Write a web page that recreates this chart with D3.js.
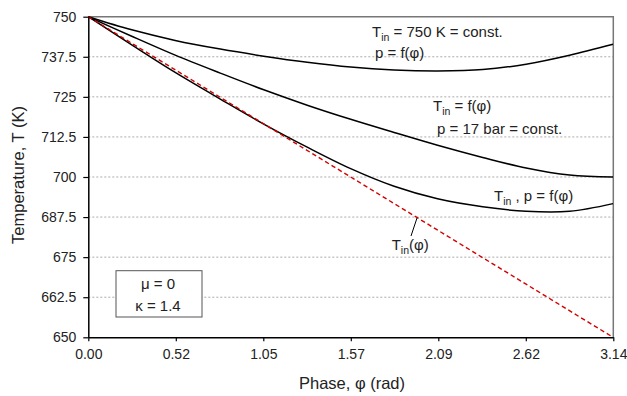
<!DOCTYPE html>
<html>
<head>
<meta charset="utf-8">
<script src="https://cdn.jsdelivr.net/npm/d3@7"></script>
<style>
  body { margin: 0; background: #fff; }
  svg { font-family: "Liberation Sans", Arial, sans-serif; }
</style>
</head>
<body>
<script>
// phase values (rad) the curves were read at
const phi = [0, 0.26, 0.52, 0.79, 1.05, 1.31, 1.57, 1.83, 2.09, 2.36, 2.62, 2.88, 3.14];

// Tin = 750 K = const, p = f(phi)
const tConstTin = [750, 745.9, 742.6, 739.9, 737.7, 735.8, 734.3, 733.4, 733.1, 733.5, 735.2, 738.0, 741.4];
// Tin = f(phi), p = 17 bar = const
const tConstP = [750, 743.9, 738.0, 732.4, 727.2, 722.4, 718.0, 713.9, 709.9, 706.1, 702.8, 700.6, 700.0];
// Tin, p = f(phi)
const tBoth = [750, 741.2, 732.6, 724.3, 716.5, 709.3, 702.6, 697.1, 693.2, 690.7, 689.3, 689.3, 691.7];
// Tin(phi), red dashed
const tinPhi = [0, 3.14];
const tinVals = [750, 650];

const yTicks = [650, 662.5, 675, 687.5, 700, 712.5, 725, 737.5, 750];
const xTicks = [0, Math.PI / 6, Math.PI / 3, Math.PI / 2, 2 * Math.PI / 3, 5 * Math.PI / 6, Math.PI];
const xTickLabels = ["0.00", "0.52", "1.05", "1.57", "2.09", "2.62", "3.14"];

const w = 627;
const h = 396;
const mLeft = 88.3, mRight = 613.3, mTop = 16.7, mBottom = 337.3;

const x = d3.scaleLinear().domain([0, Math.PI]).range([mLeft, mRight]);
const y = d3.scaleLinear().domain([650, 750]).range([mBottom, mTop]);

const svg = d3.select("body").append("svg")
  .attr("width", w)
  .attr("height", h);

// grid lines
svg.append("g")
  .selectAll("line")
  .data(yTicks.filter(d => d > 650 && d < 750))
  .enter()
  .append("line")
  .attr("x1", mLeft)
  .attr("x2", mRight)
  .attr("y1", d => y(d))
  .attr("y2", d => y(d))
  .attr("stroke", "#aaa")
  .attr("stroke-width", 1)
  .attr("stroke-dasharray", "2,2");

// plot frame top/right
svg.append("path")
  .attr("d", `M${mLeft},${y(750)}H${mRight}V${mBottom}`)
  .attr("fill", "none")
  .attr("stroke", "#777")
  .attr("stroke-width", 1.5);

const line = d3.line()
  .x(d => x(d[0]))
  .y(d => y(d[1]))
  .curve(d3.curveCatmullRom.alpha(0.5));

[tConstTin, tConstP, tBoth].forEach(series => {
  svg.append("path")
    .datum(phi.map((p, i) => [p, series[i]]))
    .attr("d", line)
    .attr("fill", "none")
    .attr("stroke", "#000")
    .attr("stroke-width", 1.5);
});

svg.append("path")
  .datum(tinPhi.map((p, i) => [p, tinVals[i]]))
  .attr("d", d3.line().x(d => x(d[0])).y(d => y(d[1])))
  .attr("fill", "none")
  .attr("stroke", "#d40000")
  .attr("stroke-width", 1.4)
  .attr("stroke-dasharray", "4.5,3");

// axes
const xAxis = d3.axisBottom(x)
  .tickValues(xTicks)
  .tickFormat((d, i) => xTickLabels[i])
  .tickSizeInner(4)
  .tickSizeOuter(0)
  .tickPadding(8);

const yAxis = d3.axisLeft(y)
  .tickValues(yTicks)
  .tickFormat(d => d)
  .tickSizeInner(5)
  .tickSizeOuter(0)
  .tickPadding(7);

const gx = svg.append("g")
  .attr("transform", "translate(0," + mBottom + ")")
  .call(xAxis);

const gy = svg.append("g")
  .attr("transform", "translate(" + mLeft + ",0)")
  .call(yAxis);

[gx, gy].forEach(g => {
  g.select(".domain").attr("stroke", "#000").attr("stroke-width", 1.5);
  g.selectAll(".tick line").attr("stroke", "#000").attr("stroke-width", 1.2);
  g.selectAll(".tick text")
    .attr("font-family", "Liberation Sans, Arial, sans-serif")
    .attr("font-size", 14)
    .attr("fill", "#222");
});

// axis titles
svg.append("text")
  .attr("x", 352)
  .attr("y", 389)
  .attr("text-anchor", "middle")
  .attr("font-size", 16.5)
  .attr("fill", "#222")
  .text("Phase, φ (rad)");

svg.append("text")
  .attr("transform", "translate(24,175) rotate(-90)")
  .attr("text-anchor", "middle")
  .attr("font-size", 16.5)
  .attr("fill", "#222")
  .text("Temperature, T (K)");

// labels with subscripts
function label(px, py, parts) {
  const t = svg.append("text")
    .attr("x", px)
    .attr("y", py)
    .attr("font-size", 15)
    .attr("fill", "#222");
  parts.forEach(p => {
    if (p.sub) {
      t.append("tspan").attr("font-size", 10.5).attr("dy", 4).text(p.sub);
    } else {
      t.append("tspan").attr("dy", p.after ? -4 : 0).text(p.text);
    }
  });
}

label(372, 36.7, [{ text: "T" }, { sub: "in" }, { text: " = 750 K = const.", after: true }]);
label(375, 58, [{ text: "p = f(φ)" }]);
label(433, 111, [{ text: "T" }, { sub: "in" }, { text: " = f(φ)", after: true }]);
label(437, 134, [{ text: "p = 17 bar = const." }]);
label(494, 200.7, [{ text: "T" }, { sub: "in" }, { text: " , p = f(φ)", after: true }]);
label(391.7, 250, [{ text: "T" }, { sub: "in" }, { text: "(φ)", after: true }]);

// leader line for Tin(phi)
svg.append("line")
  .attr("x1", 417)
  .attr("y1", 218)
  .attr("x2", 411)
  .attr("y2", 236)
  .attr("stroke", "#000")
  .attr("stroke-width", 1);

// parameter box
svg.append("rect")
  .attr("x", 116)
  .attr("y", 270.7)
  .attr("width", 86)
  .attr("height", 46.3)
  .attr("fill", "#fff")
  .attr("stroke", "#555")
  .attr("stroke-width", 1);

svg.append("text")
  .attr("x", 158)
  .attr("y", 288.5)
  .attr("text-anchor", "middle")
  .attr("font-size", 15)
  .attr("fill", "#222")
  .text("μ = 0");

svg.append("text")
  .attr("x", 158)
  .attr("y", 311)
  .attr("text-anchor", "middle")
  .attr("font-size", 15)
  .attr("fill", "#222")
  .text("κ = 1.4");
</script>
</body>
</html>
